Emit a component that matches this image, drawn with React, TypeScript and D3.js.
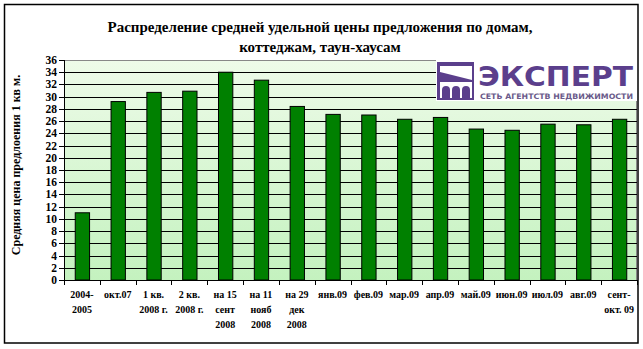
import React from "react";
import * as d3 from "d3";

const categories: string[][] = [
  ["2004-", "2005"],
  ["окт.07"],
  ["1 кв.", "2008 г."],
  ["2 кв.", "2008 г."],
  ["на 15", "сент", "2008"],
  ["на 11", "нояб", "2008"],
  ["на 29", "дек", "2008"],
  ["янв.09"],
  ["фев.09"],
  ["мар.09"],
  ["апр.09"],
  ["май.09"],
  ["июн.09"],
  ["июл.09"],
  ["авг.09"],
  ["сент-", "окт. 09"],
];
const values: number[] = [11, 29.2, 30.7, 30.9, 34, 32.7, 28.4, 27.1, 27.0, 26.3, 26.6, 24.7, 24.5, 25.5, 25.4, 26.3];
const yTicks: number[] = d3.range(0, 37, 2);
const titleLines = ["Распределение средней удельной цены предложения по домам,", "коттеджам, таун-хаусам"];
const yTitle = "Средняя цена предлоения 1 кв м.";

const W = 643, H = 349;
const plot = { left: 64, right: 637, top: 60, bottom: 280 };
const serif = "'Times New Roman', 'Liberation Serif', 'DejaVu Serif', serif";

export default function App() {
  const x = d3.scaleBand<number>().domain(d3.range(categories.length)).range([plot.left, plot.right]).paddingInner(0.6).paddingOuter(0.3);
  const xb = d3.scaleBand<number>().domain(d3.range(categories.length)).range([plot.left, plot.right]);
  const y = d3.scaleLinear().domain([0, 36]).range([plot.bottom, plot.top]);

  return (
    <div style={{ position: "absolute", left: 0, top: 0 }}>
      <svg width={W} height={H} style={{ display: "block", background: "#fff" }}>
        <defs>
          <linearGradient id="bg" x1="0" y1="0" x2="0" y2="1">
            <stop offset="0" stopColor="#eefbe9" />
            <stop offset="1" stopColor="#c4f2bf" />
          </linearGradient>
        </defs>
        <rect x={4.5} y={4.5} width={633.5} height={338.5} fill="#fff" stroke="#000" strokeWidth={1.5} />
        {titleLines.map((t, i) => (
          <text key={i} x={320} y={32 + i * 20} textAnchor="middle" style={{ fontFamily: serif }} fontWeight="bold" fontSize={15}>{t}</text>
        ))}
        <rect x={plot.left} y={plot.top} width={plot.right - plot.left} height={plot.bottom - plot.top} fill="url(#bg)" />
        <line x1={plot.left} x2={plot.right} y1={plot.top + 0.5} y2={plot.top + 0.5} stroke="#888" />
        <line x1={plot.right - 0.5} x2={plot.right - 0.5} y1={plot.top} y2={plot.bottom} stroke="#888" />
        {yTicks.filter(v => v > 0 && v < 36).map(v => (
          <line key={v} x1={plot.left} x2={plot.right} y1={Math.round(y(v)) + 0.5} y2={Math.round(y(v)) + 0.5} stroke="#000" strokeWidth={1} />
        ))}
        {values.map((v, i) => (
          <rect key={i} x={(x(i) as number) + 0.5} y={y(v)} width={x.bandwidth()} height={y(0) - y(v)} fill="#008000" stroke="#000" strokeWidth={1} />
        ))}
        {/* y axis */}
        <line x1={plot.left + 0.5} x2={plot.left + 0.5} y1={plot.top} y2={plot.bottom} stroke="#000" />
        {yTicks.map(v => (
          <g key={v}>
            <line x1={plot.left - 5} x2={plot.left} y1={Math.round(y(v)) + 0.5} y2={Math.round(y(v)) + 0.5} stroke="#000" />
            <text x={57} y={y(v) + 4} textAnchor="end" style={{ fontFamily: serif }} fontWeight="bold" fontSize={11.5}>{v}</text>
          </g>
        ))}
        {/* x axis */}
        <line x1={plot.left} x2={plot.right} y1={plot.bottom + 0.5} y2={plot.bottom + 0.5} stroke="#000" />
        {d3.range(categories.length + 1).map(i => {
          const px = Math.round(plot.left + i * xb.step()) + 0.5;
          return <line key={i} x1={px} x2={px} y1={plot.bottom} y2={plot.bottom + 5} stroke="#000" />;
        })}
        {categories.map((lines, i) => (
          <text key={i} textAnchor="middle" style={{ fontFamily: serif }} fontWeight="bold" fontSize={10}>
            {lines.map((l, j) => (
              <tspan key={j} x={(xb(i) as number) + xb.bandwidth() / 2} y={298 + j * 15}>{l}</tspan>
            ))}
          </text>
        ))}
        <text transform={`translate(20,${(plot.top + plot.bottom) / 2 - 5}) rotate(-90)`} textAnchor="middle" style={{ fontFamily: serif }} fontWeight="bold" fontSize={12}>{yTitle}</text>
        {/* logo */}
        <g>
          <rect x={436} y={60} width={201} height={41} fill="#fff" />
          <rect x={437} y={62} width={37} height={38} fill="#5b3f8c" />
          <polygon points="440,66 472,66 472,80 440,72" fill="#fff" />
          <rect x={440} y={82} width={32} height={16} fill="#fff" />
          {[0, 1, 2].map(k => (
            <path key={k} d={`M${442 + k * 10},98 v-8 a4,4 0 0 1 8,0 v8 z`} fill="#5b3f8c" />
          ))}
          <text x={478} y={86} fontFamily="DejaVu Sans, sans-serif" fontWeight="bold" fontSize={27} fill="#5b3f8c" textLength={155} lengthAdjust="spacingAndGlyphs">ЭКСПЕРТ</text>
          <text x={480} y={99} fontFamily="DejaVu Sans, sans-serif" fontWeight="bold" fontSize={7.5} fill="#6a5a8a" textLength={153} lengthAdjust="spacingAndGlyphs">СЕТЬ АГЕНТСТВ НЕДВИЖИМОСТИ</text>
        </g>
      </svg>
    </div>
  );
}
